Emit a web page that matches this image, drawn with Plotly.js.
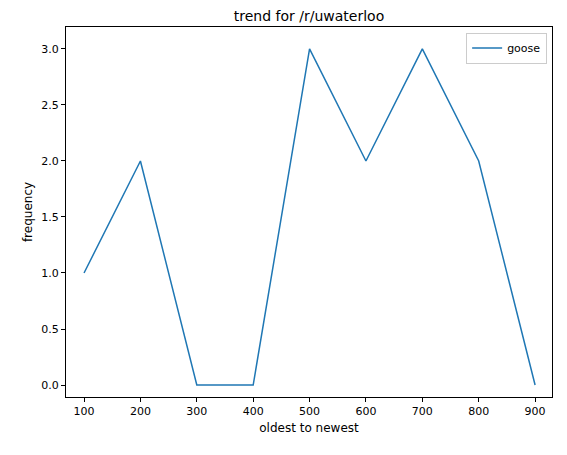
<!DOCTYPE html>
<html><head><meta charset="utf-8">
<script src="https://cdn.plot.ly/plotly-3.0.1.min.js"></script>
<style>body{margin:0}</style></head>
<body><div id="chart" style="width:567px;height:455px"></div>
<script>
var positions = [100, 200, 300, 400, 500, 600, 700, 800, 900];
var goose = [1, 2, 0, 0, 3, 2, 3, 2, 0];

var data = [{
  x: positions, y: goose, type: "scatter", mode: "lines", name: "goose",
  line: { color: "#1f77b4", width: 1.5 }
}];

var axisStyle = {
  showgrid: false, zeroline: false, showline: true, mirror: true,
  linecolor: "black", linewidth: 1, ticks: "outside", ticklen: 4,
  tickcolor: "black", tickfont: { size: 11, color: "black" }
};

var layout = {
  width: 567, height: 455,
  margin: { t: 27, r: 15, b: 58, l: 66 },
  font: { family: "DejaVu Sans", color: "black" },
  title: { text: "trend for /r/uwaterloo", font: { size: 14 }, x: 0.545, y: 0.975 },
  xaxis: Object.assign({}, axisStyle, {
    range: [68, 930], tickvals: positions,
    title: { text: "oldest to newest", font: { size: 12 }, standoff: 6 }
  }),
  yaxis: Object.assign({}, axisStyle, {
    range: [-0.107, 3.196], dtick: 0.5, tickformat: ".1f",
    title: { text: "frequency", font: { size: 12 }, standoff: 6 }
  }),
  showlegend: true,
  legend: {
    x: 0.99, y: 0.985, xanchor: "right", yanchor: "top",
    bordercolor: "#cccccc", borderwidth: 1, font: { size: 11 }
  },
  plot_bgcolor: "white", paper_bgcolor: "white"
};

Plotly.newPlot("chart", data, layout, { displayModeBar: false, responsive: false });
</script></body></html>
